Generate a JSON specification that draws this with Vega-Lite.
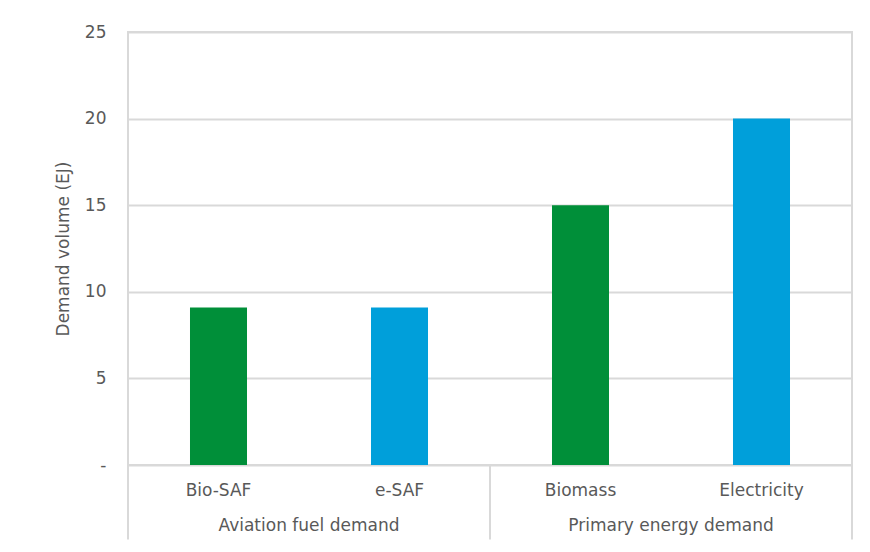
{
  "$schema": "https://vega.github.io/schema/vega-lite/v6.json",
  "width": 724,
  "height": 433,
  "autosize": {"type": "none"},
  "padding": {"left": 128, "top": 32, "right": 18, "bottom": 87},
  "background": "white",
  "config": {
    "font": "DejaVu Sans",
    "view": {"stroke": "#d9d9d9", "strokeWidth": 2}
  },
  "datasets": {
    "demand": [
      {"group": "Aviation fuel demand", "category": "Bio-SAF", "carrier": "Biogenic", "value": 9.1},
      {"group": "Aviation fuel demand", "category": "e-SAF", "carrier": "Electric", "value": 9.1},
      {"group": "Primary energy demand", "category": "Biomass", "carrier": "Biogenic", "value": 15},
      {"group": "Primary energy demand", "category": "Electricity", "carrier": "Electric", "value": 20}
    ]
  },
  "data": {"name": "demand"},
  "layer": [
    {
      "mark": {"type": "bar", "width": {"band": 0.315}},
      "encoding": {
        "x": {
          "field": "category",
          "type": "nominal",
          "sort": ["Bio-SAF", "e-SAF", "Biomass", "Electricity"],
          "scale": {"paddingInner": 0, "paddingOuter": 0},
          "axis": {
            "title": null,
            "labelAngle": 0,
            "ticks": false,
            "domain": false,
            "grid": false,
            "labelPadding": 17,
            "labelFontSize": 17,
            "labelColor": "#595959"
          }
        },
        "y": {
          "field": "value",
          "type": "quantitative",
          "scale": {"domain": [0, 25], "nice": false},
          "axis": {
            "title": "Demand volume (EJ)",
            "titleFontSize": 17,
            "titleFontWeight": "normal",
            "titleColor": "#595959",
            "titlePadding": 12,
            "values": [0, 5, 10, 15, 20, 25],
            "labelExpr": "datum.value == 0 ? '-' : datum.label",
            "labelFontSize": 17,
            "labelColor": "#595959",
            "labelPadding": 22,
            "ticks": false,
            "domain": false,
            "grid": true,
            "gridColor": "#d9d9d9",
            "gridWidth": 2
          }
        },
        "color": {
          "field": "carrier",
          "type": "nominal",
          "scale": {"domain": ["Biogenic", "Electric"], "range": ["#008F39", "#009FDA"]},
          "legend": null
        }
      }
    },
    {
      "transform": [{"filter": "datum.category == 'Bio-SAF' || datum.category == 'Biomass'"}],
      "mark": {"type": "rule", "color": "#d9d9d9", "strokeWidth": 2},
      "encoding": {
        "x": {"field": "category", "type": "nominal", "sort": ["Bio-SAF", "e-SAF", "Biomass", "Electricity"], "bandPosition": 0},
        "y": {"datum": 0},
        "y2": {"datum": -4.3}
      }
    },
    {
      "transform": [{"filter": "datum.category == 'Electricity'"}],
      "mark": {"type": "rule", "color": "#d9d9d9", "strokeWidth": 2},
      "encoding": {
        "x": {"field": "category", "type": "nominal", "sort": ["Bio-SAF", "e-SAF", "Biomass", "Electricity"], "bandPosition": 1},
        "y": {"datum": 0},
        "y2": {"datum": -4.3}
      }
    },
    {
      "transform": [{"filter": "datum.category == 'Bio-SAF' || datum.category == 'Biomass'"}],
      "mark": {"type": "text", "fontSize": 17, "color": "#595959", "baseline": "middle", "align": "center"},
      "encoding": {
        "x": {"field": "category", "type": "nominal", "sort": ["Bio-SAF", "e-SAF", "Biomass", "Electricity"], "bandPosition": 1},
        "y": {"datum": -3.5},
        "text": {"field": "group"}
      }
    }
  ]
}
